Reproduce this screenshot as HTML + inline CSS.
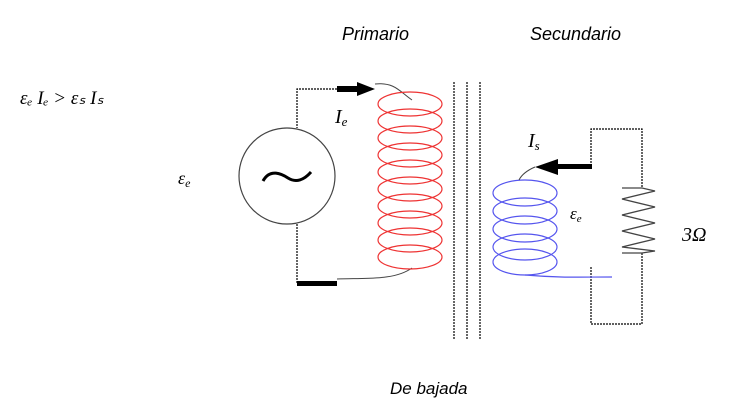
<!DOCTYPE html>
<html><head><style>
body{margin:0;background:#fff;}
svg{display:block}
text{font-family:"Liberation Sans",sans-serif;font-style:italic;}
.s{font-family:"Liberation Serif",serif;}
</style></head><body>
<svg width="745" height="411" viewBox="0 0 745 411">
<text x="342" y="40" font-size="18">Primario</text>
<text x="530" y="40" font-size="18">Secundario</text>
<text x="390" y="394" font-size="17">De bajada</text>
<text x="20" y="104" font-size="19" class="s">εₑ Iₑ  &gt; εₛ Iₛ</text>
<text x="178" y="184" font-size="18" class="s">ε<tspan font-size="12" dy="3">e</tspan></text>
<text x="335" y="123" font-size="20" class="s">I<tspan font-size="13" dy="3">e</tspan></text>
<text x="528" y="147" font-size="20" class="s">I<tspan font-size="13" dy="3">s</tspan></text>
<text x="570" y="219" font-size="17" class="s">ε<tspan font-size="11" dy="3">e</tspan></text>
<text x="682" y="241" font-size="20" class="s">3Ω</text>
<g stroke="#000" fill="none" stroke-width="1.2" stroke-dasharray="2 1">
<polyline points="337,89 297,89 297,128"/>
<polyline points="297,224 297,283"/>
<polyline points="591,163 591,129 642,129 642,188"/>
<polyline points="642,253 642,324 591,324 591,267"/>
<line x1="454" y1="82" x2="454" y2="340"/>
<line x1="467" y1="82" x2="467" y2="340"/>
<line x1="480" y1="82" x2="480" y2="340"/>
</g>
<circle cx="287" cy="176" r="48" stroke="#444" fill="none" stroke-width="1.2"/>
<path d="M263,181 C270,168 282,174 288,178 C296,183 304,180 311,172" stroke="#000" stroke-width="3" fill="none"/>
<rect x="297" y="281" width="40" height="5" fill="#000"/>
<rect x="337" y="86" width="22" height="6" fill="#000"/>
<polygon points="357,82 375,89 357,96" fill="#000"/>
<path d="M375,84 C395,82 400,92 412,100" stroke="#444" fill="none"/>
<path d="M337,279 C370,278 395,280 412,268" stroke="#444" fill="none"/>
<g stroke="#e33" fill="none" stroke-width="1.2">
<ellipse cx="410" cy="104" rx="32" ry="12"/>
<ellipse cx="410" cy="121" rx="32" ry="12"/>
<ellipse cx="410" cy="138" rx="32" ry="12"/>
<ellipse cx="410" cy="155" rx="32" ry="12"/>
<ellipse cx="410" cy="172" rx="32" ry="12"/>
<ellipse cx="410" cy="189" rx="32" ry="12"/>
<ellipse cx="410" cy="206" rx="32" ry="12"/>
<ellipse cx="410" cy="223" rx="32" ry="12"/>
<ellipse cx="410" cy="240" rx="32" ry="12"/>
<ellipse cx="410" cy="257" rx="32" ry="12"/>
</g>
<g stroke="#55e" fill="none" stroke-width="1.2">
<ellipse cx="525" cy="193" rx="32" ry="13"/>
<ellipse cx="525" cy="211" rx="32" ry="13"/>
<ellipse cx="525" cy="229" rx="32" ry="13"/>
<ellipse cx="525" cy="247" rx="32" ry="13"/>
<ellipse cx="525" cy="262" rx="32" ry="13"/>
<path d="M525,275 C560,278 580,277 612,277"/>
</g>
<rect x="557" y="164" width="35" height="5" fill="#000"/>
<polygon points="558,159 535,167 558,175" fill="#000"/>
<path d="M535,167 C528,170 522,174 519,180" stroke="#444" fill="none"/>
<polyline points="622,188 642,188 655,191 622,199 655,207 622,215 655,223 622,231 655,239 622,247 655,251 642,253 622,253" stroke="#444" fill="none" stroke-width="1.3"/>
</svg>
</body></html>
